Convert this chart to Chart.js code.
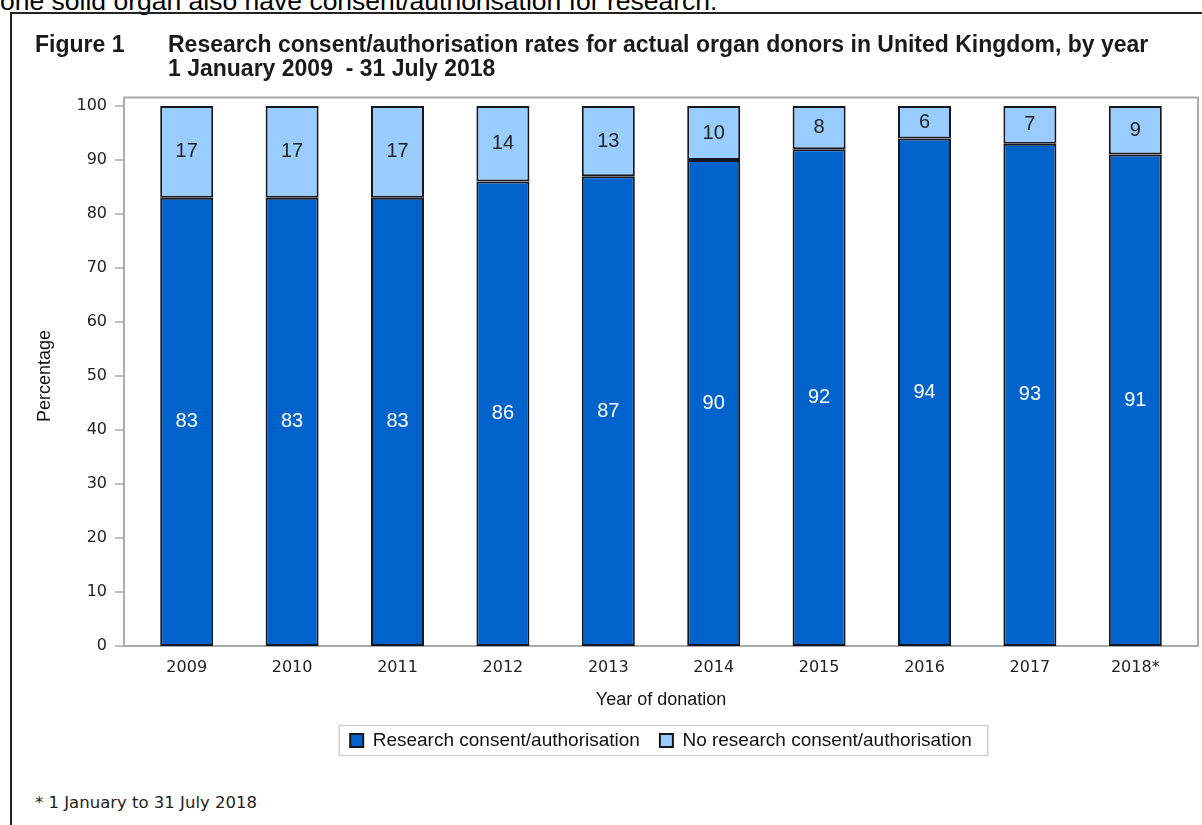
<!DOCTYPE html>
<html>
<head>
<meta charset="utf-8">
<script src="https://cdn.jsdelivr.net/npm/chart.js@4/dist/chart.umd.min.js"></script>
<style>
  html, body { margin: 0; padding: 0; background: #fff; width: 1202px; height: 825px; overflow: hidden; position: relative; }
  .lead { position: absolute; left: 0; top: -12px; font: 26.5px "Liberation Sans", Arial, sans-serif; line-height: 26px; color: #000; white-space: nowrap; }
  .frame { position: absolute; left: 10px; top: 12px; width: 1300px; height: 900px; border: 2px solid #222; }
  .fig { position: absolute; left: 35px; top: 32px; font: bold 23px "Liberation Sans", Arial, sans-serif; line-height: 24px; color: #1a1a1a; }
  .title { position: absolute; left: 168px; top: 32px; font: bold 23px "Liberation Sans", Arial, sans-serif; line-height: 24px; color: #1a1a1a; white-space: nowrap; }
  .note { position: absolute; left: 35px; top: 793px; font: 16.5px "DejaVu Sans", sans-serif; line-height: 20px; color: #222; white-space: nowrap; }
  #chart { position: absolute; left: 0; top: 0; }
</style>
</head>
<body>
<div class="lead">one solid organ also have consent/authorisation for research.</div>
<div class="frame"></div>
<canvas id="chart" width="1202" height="773"></canvas>
<div class="fig">Figure 1</div>
<div class="title">Research consent/authorisation rates for actual organ donors in United Kingdom, by year<br>1 January 2009&nbsp; - 31 July 2018</div>
<div class="note">* 1 January to 31 July 2018</div>

<script>
const years = ['2009', '2010', '2011', '2012', '2013', '2014', '2015', '2016', '2017', '2018*'];
const consent = [83, 83, 83, 86, 87, 90, 92, 94, 93, 91];
const noConsent = [17, 17, 17, 14, 13, 10, 8, 6, 7, 9];
const yTicks = [0, 10, 20, 30, 40, 50, 60, 70, 80, 90, 100];

const darkBlue = '#0063cc';
const lightBlue = '#99ccff';
const edge = '#16161e';

// grey frame round the plot, with tick marks on its left side
const plotFrame = {
    id: 'plotFrame',
    beforeDatasetsDraw(chart) {
        const { ctx, chartArea: a } = chart;
        const y = chart.scales.y;
        const left = a.left - 10, right = a.right + 10, top = a.top - 8.5;
        ctx.save();
        ctx.strokeStyle = '#a8acb0';
        ctx.lineWidth = 2;
        ctx.strokeRect(left, top, right - left, a.bottom - top);
        ctx.lineWidth = 1.5;
        yTicks.forEach(v => {
            const py = y.getPixelForValue(v);
            ctx.beginPath();
            ctx.moveTo(left - 9, py);
            ctx.lineTo(left, py);
            ctx.stroke();
        });
        ctx.restore();
    }
};

// value written in the middle of each bar segment
const segmentLabels = {
    id: 'segmentLabels',
    afterDatasetsDraw(chart) {
        const { ctx } = chart;
        ctx.save();
        ctx.font = '20px "Liberation Sans", Arial, sans-serif';
        ctx.textAlign = 'center';
        ctx.textBaseline = 'middle';
        chart.data.datasets.forEach((ds, i) => {
            ctx.fillStyle = i === 0 ? '#ffffff' : '#222222';
            chart.getDatasetMeta(i).data.forEach((bar, j) => {
                ctx.fillText(ds.data[j], bar.x, (bar.y + bar.base) / 2);
            });
        });
        ctx.restore();
    }
};

// thin box round the legend row
const legendBox = {
    id: 'legendBox',
    afterDraw(chart) {
        const boxes = chart.legend.legendHitBoxes;
        if (!boxes || !boxes.length) return;
        const l = Math.min(...boxes.map(b => b.left));
        const r = Math.max(...boxes.map(b => b.left + b.width));
        const cy = boxes[0].top + boxes[0].height / 2;
        const { ctx } = chart;
        ctx.save();
        ctx.strokeStyle = '#d0d0d0';
        ctx.lineWidth = 1.5;
        ctx.strokeRect(l - 11, cy - 15, r - l + 27, 30);
        ctx.restore();
    }
};

const chart = new Chart(document.getElementById('chart'), {
    type: 'bar',
    data: {
        labels: years,
        datasets: [
            {
                label: 'Research consent/authorisation',
                data: consent,
                backgroundColor: darkBlue,
                borderColor: edge,
                borderWidth: 2,
                borderSkipped: false
            },
            {
                label: 'No research consent/authorisation',
                data: noConsent,
                backgroundColor: lightBlue,
                borderColor: edge,
                borderWidth: 2,
                borderSkipped: false
            }
        ]
    },
    options: {
        responsive: false,
        animation: false,
        categoryPercentage: 1,
        barPercentage: 0.503,
        layout: { padding: { top: 106, right: 14, left: 0, bottom: 13 } },
        scales: {
            x: {
                stacked: true,
                grid: { display: false, drawTicks: false },
                border: { display: false },
                ticks: { color: '#222', padding: 12, font: { family: 'DejaVu Sans', size: 16 }, maxRotation: 0 },
                title: {
                    display: true,
                    text: 'Year of donation',
                    color: '#111',
                    font: { family: 'Liberation Sans', size: 18 },
                    padding: { top: 0, bottom: 0 }
                },
                afterFit(scale) { scale.height = 65; }
            },
            y: {
                stacked: true,
                min: 0,
                max: 100,
                grid: { display: false, drawTicks: false },
                border: { display: false },
                ticks: { stepSize: 10, color: '#222', padding: 27, font: { family: 'DejaVu Sans', size: 16 } },
                title: {
                    display: true,
                    text: 'Percentage',
                    color: '#111',
                    font: { family: 'Liberation Sans', size: 18 },
                    padding: { top: 34, bottom: 0 }
                },
                afterFit(scale) { scale.width = 134; }
            }
        },
        plugins: {
            legend: {
                position: 'bottom',
                fullSize: false,
                labels: {
                    boxWidth: 13,
                    boxHeight: 13,
                    padding: 20,
                    color: '#111',
                    font: { family: 'Liberation Sans', size: 19 }
                }
            },
            tooltip: { enabled: false }
        }
    },
    plugins: [plotFrame, segmentLabels, legendBox]
});
</script>
</body>
</html>
